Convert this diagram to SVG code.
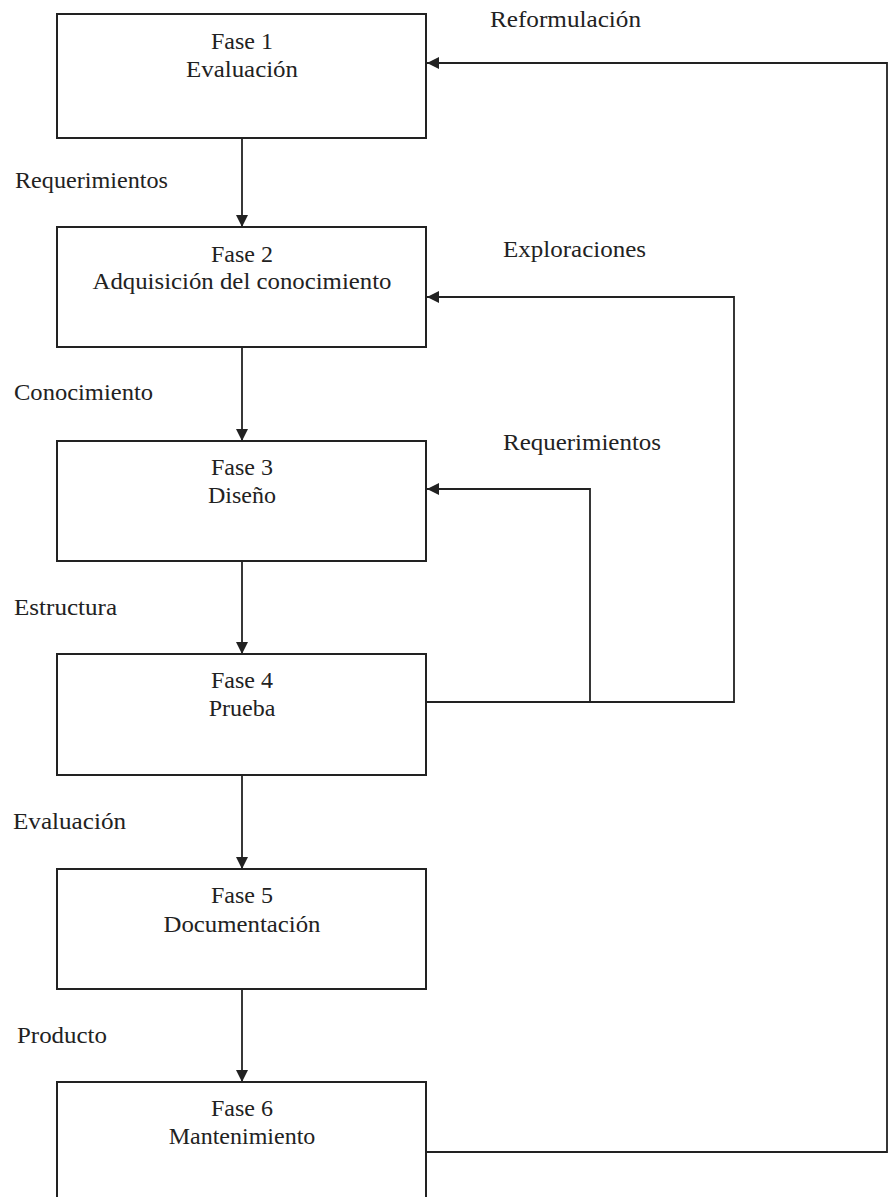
<svg xmlns="http://www.w3.org/2000/svg" width="888" height="1197" viewBox="0 0 888 1197">
<style>
.box{fill:#fff;stroke:#222;stroke-width:2}
.t{font-family:'Liberation Serif',Tinos,'Times New Roman','DejaVu Serif',serif;font-size:24px;fill:#222}
.c{text-anchor:middle}
.conn path{fill:none;stroke:#222;stroke-width:1.8}
</style>
<defs>
<marker id="ah" markerUnits="userSpaceOnUse" markerWidth="13" markerHeight="12" refX="12" refY="6" orient="auto">
<path d="M0,0 L12,6 L0,12 z" fill="#222"/>
</marker>
</defs>
<rect width="888" height="1197" fill="#fff"/>
<g id="connectors" class="conn">
<path d="M242 138 V227" marker-end="url(#ah)"/>
<path d="M242 347 V441" marker-end="url(#ah)"/>
<path d="M242 561 V654" marker-end="url(#ah)"/>
<path d="M242 775 V869" marker-end="url(#ah)"/>
<path d="M242 989 V1082" marker-end="url(#ah)"/>
<path d="M426 702 H734 V297 H427" marker-end="url(#ah)"/>
<path d="M590 702 V489 H427" marker-end="url(#ah)"/>
<path d="M426 1152 H887 V63 H427" marker-end="url(#ah)"/>
</g>
<g id="labels">
<text class="t" x="490" y="27" textLength="151" lengthAdjust="spacingAndGlyphs">Reformulación</text>
<text class="t" x="15" y="188" textLength="153" lengthAdjust="spacingAndGlyphs">Requerimientos</text>
<text class="t" x="503" y="257" textLength="143" lengthAdjust="spacingAndGlyphs">Exploraciones</text>
<text class="t" x="14" y="400" textLength="139" lengthAdjust="spacingAndGlyphs">Conocimiento</text>
<text class="t" x="503" y="450" textLength="158" lengthAdjust="spacingAndGlyphs">Requerimientos</text>
<text class="t" x="14" y="615" textLength="103" lengthAdjust="spacingAndGlyphs">Estructura</text>
<text class="t" x="13" y="829" textLength="113" lengthAdjust="spacingAndGlyphs">Evaluación</text>
<text class="t" x="17" y="1043" textLength="90" lengthAdjust="spacingAndGlyphs">Producto</text>
</g>
<g id="fase1">
<rect class="box" x="57" y="14" width="369" height="124"/>
<text class="t c" x="242" y="49">Fase 1</text>
<text class="t c" x="242" y="77" textLength="112" lengthAdjust="spacingAndGlyphs">Evaluación</text>
</g>
<g id="fase2">
<rect class="box" x="57" y="227" width="369" height="120"/>
<text class="t c" x="242" y="262">Fase 2</text>
<text class="t c" x="242" y="289" textLength="299" lengthAdjust="spacingAndGlyphs">Adquisición  del conocimiento</text>
</g>
<g id="fase3">
<rect class="box" x="57" y="441" width="369" height="120"/>
<text class="t c" x="242" y="475">Fase 3</text>
<text class="t c" x="242" y="503">Diseño</text>
</g>
<g id="fase4">
<rect class="box" x="57" y="654" width="369" height="121"/>
<text class="t c" x="242" y="688">Fase 4</text>
<text class="t c" x="242" y="716">Prueba</text>
</g>
<g id="fase5">
<rect class="box" x="57" y="869" width="369" height="120"/>
<text class="t c" x="242" y="903">Fase 5</text>
<text class="t c" x="242" y="932" textLength="157" lengthAdjust="spacingAndGlyphs">Documentación</text>
</g>
<g id="fase6">
<rect class="box" x="57" y="1082" width="369" height="130"/>
<text class="t c" x="242" y="1116">Fase 6</text>
<text class="t c" x="242" y="1144">Mantenimiento</text>
</g>
</svg>
